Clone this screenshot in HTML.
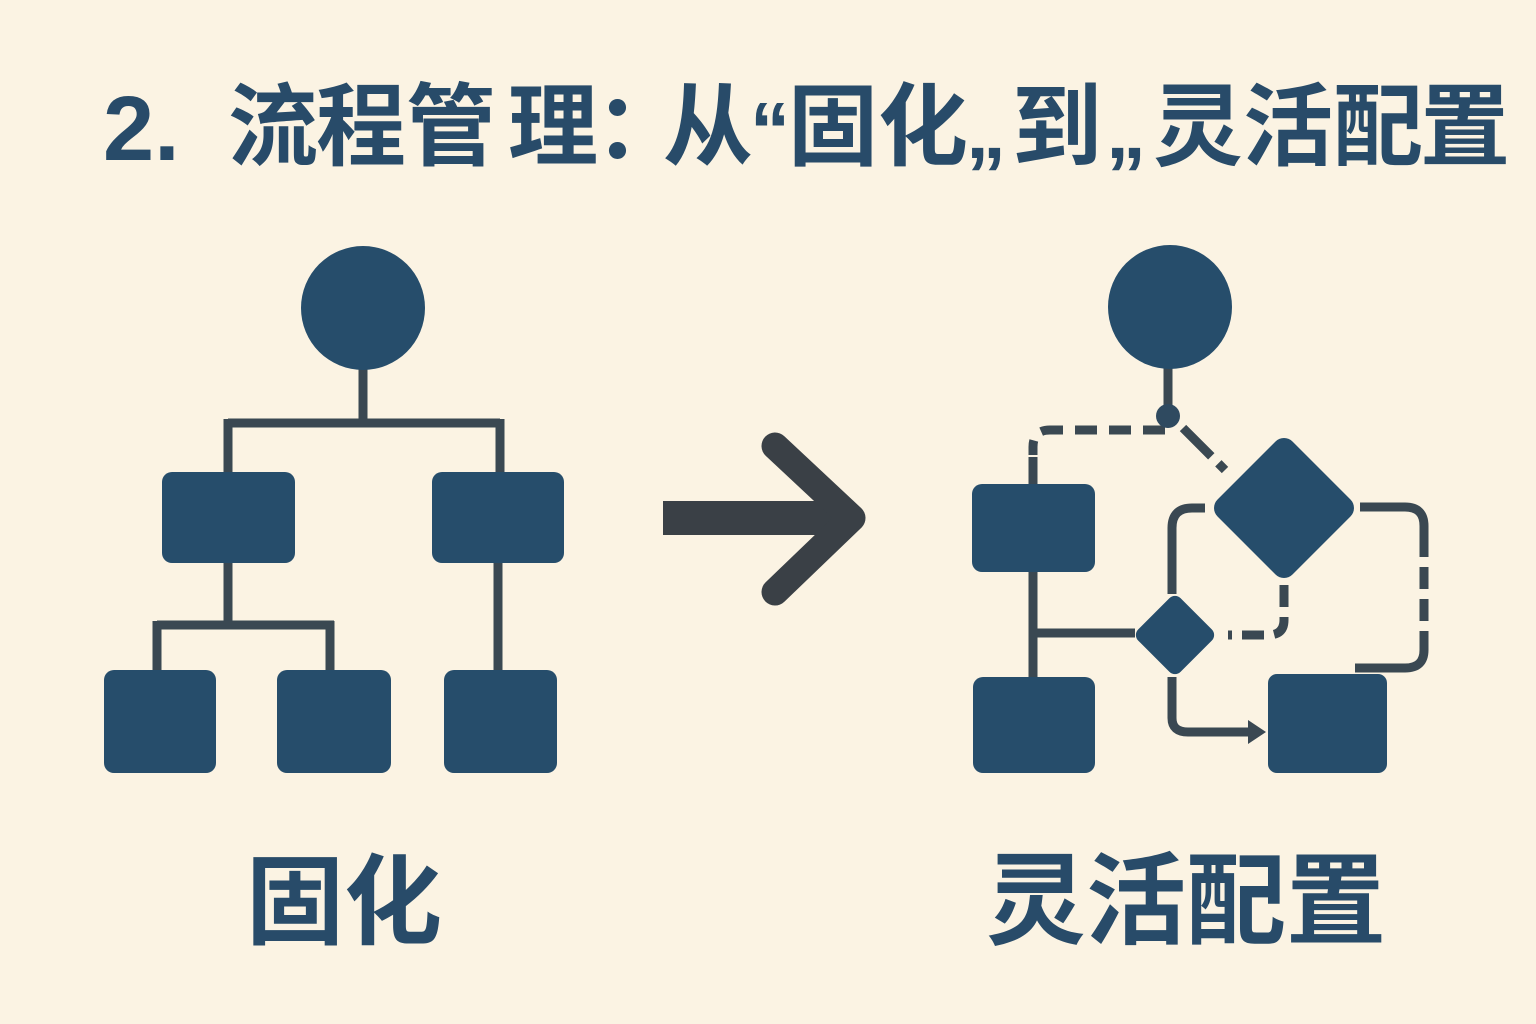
<!DOCTYPE html>
<html><head><meta charset="utf-8"><style>
html,body{margin:0;padding:0;background:#fbf3e3;}
svg{display:block}
text{font-family:"Liberation Sans","Noto Sans CJK SC",sans-serif;font-weight:bold;fill:#284b69}
</style></head><body>
<svg width="1536" height="1024" viewBox="0 0 1536 1024" xmlns="http://www.w3.org/2000/svg">
<rect width="1536" height="1024" fill="#fbf3e3"/>
<g font-size="90">
<text x="103" y="160" font-size="92">2.</text>
<text x="228" y="158">流</text>
<text x="316" y="158">程</text>
<text x="406" y="158">管</text>
<text x="508" y="158">理</text>
<text x="595" y="158">：</text>
<text x="663" y="158">从</text>
<text x="750" y="158" font-size="80">“</text>
<text x="788" y="158">固</text>
<text x="878" y="158">化</text>
<text x="966" y="158" font-size="80">„</text>
<text x="1012" y="158">到</text>
<text x="1106" y="158" font-size="80">„</text>
<text x="1153" y="158">灵</text>
<text x="1243" y="158">活</text>
<text x="1333" y="158">配</text>
<text x="1420" y="158">置</text>
</g>
<g stroke="#3a4852" stroke-width="9" fill="none">
<path d="M363 368V423M228 423H500M228 419V472M500 419V472"/>
<path d="M228 563V625M157 625H334M157 621V670M330 621V670M498 563V670"/>
</g>
<g fill="#264d6b">
<circle cx="363" cy="308" r="62"/>
<rect x="162" y="472" width="133" height="91" rx="10"/>
<rect x="432" y="472" width="132" height="91" rx="10"/>
<rect x="104" y="670" width="112" height="103" rx="10"/>
<rect x="277" y="670" width="114" height="103" rx="10"/>
<rect x="444" y="670" width="113" height="103" rx="10"/>
</g>
<g fill="none" stroke="#3a4046" stroke-linejoin="round">
<path d="M663 518H845" stroke-width="34"/>
<path d="M775 446L852 518L775 592" stroke-width="27" stroke-linecap="round"/>
</g>
<g stroke="#3a4852" stroke-width="9" fill="none">
<path d="M1168 368V416"/>
<path d="M1165 430H1050Q1033 430 1033 447V455" stroke-dasharray="22 12"/>
<path d="M1033 457V484"/>
<path d="M1183 428L1225 470" stroke-dasharray="40 10"/>
<path d="M1033 572V677M1033 633H1135"/>
<path d="M1205 508H1192Q1172 508 1172 528V594"/>
<path d="M1360 507H1405Q1424 507 1424 526V650Q1424 668 1405 668H1355"/>
<path d="M1284 585V620Q1284 635 1268 635H1228" stroke-dasharray="22 10"/>
<path d="M1172 677V718Q1172 732 1188 732H1252"/>
</g>
<rect x="1415" y="535" width="18" height="110" fill="#fbf3e3"/>
<g stroke="#3a4852" stroke-width="9" fill="none"><path d="M1424 535V648" stroke-dasharray="22 10"/></g>
<path d="M1248 720L1266 732L1248 744Z" fill="#3a4852"/>
<circle cx="1168" cy="416" r="12" fill="#2f4a60"/>
<g fill="#264d6b">
<circle cx="1170" cy="307" r="62"/>
<rect x="972" y="484" width="123" height="88" rx="10"/>
<rect x="973" y="677" width="122" height="96" rx="10"/>
<rect x="1268" y="674" width="119" height="99" rx="9"/>
<rect x="1231" y="455" width="106" height="106" rx="12" transform="rotate(45 1284 508)"/>
<rect x="1145" y="605" width="60" height="60" rx="8" transform="rotate(45 1175 635)"/>
</g>
<g>
<text x="246" y="936" font-size="98">固化</text>
<text x="986" y="936" font-size="100">灵活配置</text>
</g>
</svg>
</body></html>
